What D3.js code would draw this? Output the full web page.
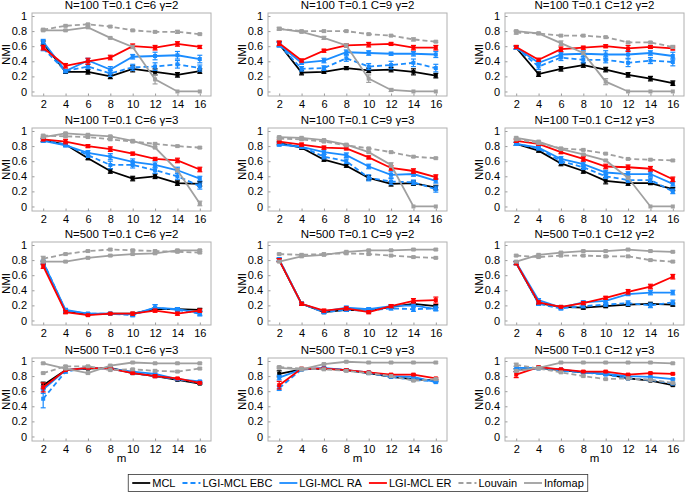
<!DOCTYPE html>
<html>
<head>
<meta charset="utf-8">
<script src="https://cdn.jsdelivr.net/npm/d3@7"></script>
<style>
  body { margin: 0; background: #fff; }
  svg { font-family: "Liberation Sans", Arial, sans-serif; }
</style>
</head>
<body>
<div id="chart"></div>
<script>
// x values and ticks
const mValues = [2, 4, 6, 8, 10, 12, 14, 16];
const yTicks = [0, 0.2, 0.4, 0.6, 0.8, 1];

const panelTitles = [
  "N=100 T=0.1 C=6 γ=2", "N=100 T=0.1 C=9 γ=2", "N=100 T=0.1 C=12 γ=2",
  "N=100 T=0.1 C=6 γ=3", "N=100 T=0.1 C=9 γ=3", "N=100 T=0.1 C=12 γ=3",
  "N=500 T=0.1 C=6 γ=2", "N=500 T=0.1 C=9 γ=2", "N=500 T=0.1 C=12 γ=2",
  "N=500 T=0.1 C=6 γ=3", "N=500 T=0.1 C=9 γ=3", "N=500 T=0.1 C=12 γ=3"
];

// NMI means, one row per panel
const mclNmi = [
  [0.64, 0.26, 0.26, 0.20, 0.30, 0.26, 0.22, 0.27],
  [0.63, 0.25, 0.26, 0.31, 0.28, 0.29, 0.26, 0.21],
  [0.58, 0.23, 0.30, 0.35, 0.29, 0.22, 0.17, 0.11],
  [0.88, 0.82, 0.64, 0.47, 0.37, 0.40, 0.31, 0.30],
  [0.84, 0.78, 0.62, 0.54, 0.38, 0.30, 0.31, 0.25],
  [0.83, 0.74, 0.57, 0.47, 0.34, 0.31, 0.31, 0.23],
  [0.76, 0.12, 0.08, 0.09, 0.09, 0.15, 0.15, 0.14],
  [0.80, 0.22, 0.11, 0.14, 0.13, 0.18, 0.22, 0.19],
  [0.76, 0.23, 0.18, 0.17, 0.19, 0.21, 0.22, 0.21],
  [0.68, 0.88, 0.90, 0.91, 0.84, 0.80, 0.75, 0.70],
  [0.83, 0.89, 0.90, 0.88, 0.84, 0.79, 0.76, 0.74],
  [0.88, 0.91, 0.88, 0.85, 0.83, 0.77, 0.74, 0.68]
];
const ebcNmi = [
  [0.57, 0.27, 0.33, 0.24, 0.32, 0.33, 0.36, 0.31],
  [0.62, 0.30, 0.31, 0.44, 0.33, 0.35, 0.38, 0.31],
  [0.58, 0.33, 0.45, 0.42, 0.42, 0.38, 0.41, 0.39],
  [0.88, 0.82, 0.68, 0.55, 0.55, 0.48, 0.40, 0.27],
  [0.83, 0.79, 0.66, 0.60, 0.38, 0.33, 0.32, 0.23],
  [0.83, 0.77, 0.60, 0.52, 0.40, 0.35, 0.35, 0.20],
  [0.78, 0.13, 0.09, 0.09, 0.07, 0.17, 0.14, 0.09],
  [0.81, 0.22, 0.11, 0.14, 0.13, 0.16, 0.15, 0.16],
  [0.76, 0.22, 0.16, 0.19, 0.21, 0.23, 0.20, 0.24],
  [0.50, 0.86, 0.91, 0.90, 0.84, 0.80, 0.76, 0.71],
  [0.64, 0.89, 0.90, 0.88, 0.84, 0.79, 0.75, 0.73],
  [0.88, 0.90, 0.87, 0.85, 0.82, 0.77, 0.75, 0.70]
];
const raNmi = [
  [0.66, 0.27, 0.41, 0.29, 0.46, 0.47, 0.48, 0.43],
  [0.62, 0.38, 0.41, 0.52, 0.51, 0.50, 0.50, 0.49],
  [0.58, 0.38, 0.49, 0.50, 0.49, 0.49, 0.51, 0.47],
  [0.87, 0.81, 0.71, 0.66, 0.59, 0.55, 0.48, 0.37],
  [0.82, 0.79, 0.72, 0.68, 0.53, 0.42, 0.43, 0.34],
  [0.83, 0.78, 0.63, 0.56, 0.45, 0.43, 0.43, 0.30],
  [0.77, 0.14, 0.09, 0.09, 0.08, 0.17, 0.15, 0.10],
  [0.81, 0.22, 0.12, 0.17, 0.15, 0.19, 0.20, 0.15],
  [0.77, 0.27, 0.17, 0.24, 0.26, 0.35, 0.37, 0.37],
  [0.62, 0.88, 0.91, 0.90, 0.86, 0.83, 0.76, 0.73],
  [0.78, 0.89, 0.91, 0.88, 0.85, 0.80, 0.79, 0.72],
  [0.91, 0.91, 0.89, 0.85, 0.83, 0.80, 0.79, 0.76]
];
const erNmi = [
  [0.58, 0.34, 0.40, 0.45, 0.60, 0.58, 0.63, 0.59],
  [0.64, 0.41, 0.54, 0.61, 0.62, 0.63, 0.58, 0.58],
  [0.59, 0.42, 0.56, 0.58, 0.60, 0.57, 0.59, 0.57],
  [0.89, 0.86, 0.80, 0.76, 0.70, 0.63, 0.61, 0.49],
  [0.86, 0.82, 0.78, 0.77, 0.65, 0.51, 0.47, 0.39],
  [0.87, 0.83, 0.72, 0.63, 0.53, 0.52, 0.50, 0.36],
  [0.72, 0.11, 0.07, 0.09, 0.09, 0.13, 0.09, 0.13],
  [0.80, 0.22, 0.13, 0.16, 0.11, 0.19, 0.26, 0.27],
  [0.76, 0.24, 0.18, 0.23, 0.30, 0.38, 0.45, 0.58],
  [0.65, 0.88, 0.91, 0.90, 0.84, 0.80, 0.77, 0.71],
  [0.68, 0.90, 0.90, 0.88, 0.85, 0.82, 0.82, 0.77],
  [0.82, 0.92, 0.89, 0.86, 0.86, 0.82, 0.84, 0.83]
];
const louvainNmi = [
  [0.82, 0.87, 0.89, 0.86, 0.81, 0.79, 0.79, 0.76],
  [0.83, 0.80, 0.80, 0.80, 0.76, 0.74, 0.69, 0.66],
  [0.78, 0.77, 0.74, 0.74, 0.72, 0.65, 0.65, 0.59],
  [0.94, 0.93, 0.92, 0.89, 0.86, 0.83, 0.80, 0.78],
  [0.90, 0.89, 0.86, 0.81, 0.77, 0.72, 0.66, 0.64],
  [0.89, 0.84, 0.77, 0.75, 0.70, 0.63, 0.62, 0.61],
  [0.82, 0.88, 0.92, 0.94, 0.93, 0.92, 0.91, 0.90],
  [0.88, 0.87, 0.88, 0.89, 0.88, 0.86, 0.84, 0.83],
  [0.86, 0.84, 0.86, 0.86, 0.85, 0.85, 0.80, 0.78],
  [0.84, 0.93, 0.93, 0.88, 0.89, 0.87, 0.86, 0.90],
  [0.92, 0.90, 0.89, 0.87, 0.84, 0.80, 0.74, 0.76],
  [0.95, 0.90, 0.85, 0.80, 0.76, 0.77, 0.75, 0.71]
];
const infomapNmi = [
  [0.81, 0.81, 0.85, 0.71, 0.59, 0.16, 0.00, 0.00],
  [0.83, 0.79, 0.71, 0.61, 0.17, 0.02, 0.00, 0.00],
  [0.80, 0.77, 0.64, 0.51, 0.13, 0.00, 0.00, 0.00],
  [0.92, 0.97, 0.95, 0.93, 0.87, 0.78, 0.48, 0.04],
  [0.92, 0.91, 0.88, 0.82, 0.72, 0.55, 0.00, 0.00],
  [0.91, 0.86, 0.76, 0.69, 0.61, 0.38, 0.00, 0.00],
  [0.78, 0.78, 0.83, 0.86, 0.88, 0.89, 0.93, 0.93],
  [0.78, 0.85, 0.87, 0.91, 0.93, 0.93, 0.94, 0.94],
  [0.78, 0.87, 0.90, 0.92, 0.92, 0.94, 0.92, 0.91],
  [0.97, 0.90, 0.84, 0.94, 0.98, 0.97, 0.97, 0.97],
  [0.91, 0.89, 0.96, 0.99, 0.98, 0.98, 0.98, 0.98],
  [0.87, 0.91, 0.98, 0.98, 0.98, 0.98, 0.98, 0.97]
];

// error bar half-lengths (std), one row per panel
const mclErr = [
  [0.03, 0.02, 0.03, 0.03, 0.04, 0.04, 0.03, 0.03],
  [0.03, 0.03, 0.02, 0.02, 0.03, 0.03, 0.04, 0.03],
  [0.02, 0.03, 0.03, 0.03, 0.03, 0.03, 0.03, 0.03],
  [0.02, 0.02, 0.02, 0.03, 0.03, 0.03, 0.03, 0.03],
  [0.02, 0.02, 0.02, 0.02, 0.03, 0.03, 0.03, 0.03],
  [0.02, 0.02, 0.03, 0.03, 0.04, 0.03, 0.02, 0.02],
  [0.02, 0.02, 0.01, 0.01, 0.01, 0.02, 0.02, 0.02],
  [0.02, 0.02, 0.01, 0.02, 0.02, 0.02, 0.02, 0.02],
  [0.02, 0.02, 0.01, 0.02, 0.02, 0.02, 0.02, 0.02],
  [0.04, 0.01, 0.01, 0.01, 0.01, 0.01, 0.01, 0.01],
  [0.04, 0.01, 0.01, 0.01, 0.01, 0.01, 0.01, 0.01],
  [0.02, 0.01, 0.01, 0.01, 0.01, 0.01, 0.01, 0.01]
];
const ebcErr = [
  [0.03, 0.02, 0.03, 0.04, 0.04, 0.05, 0.05, 0.04],
  [0.03, 0.03, 0.03, 0.04, 0.04, 0.05, 0.05, 0.05],
  [0.02, 0.04, 0.04, 0.04, 0.04, 0.05, 0.04, 0.05],
  [0.02, 0.02, 0.03, 0.05, 0.04, 0.04, 0.04, 0.04],
  [0.02, 0.02, 0.03, 0.03, 0.04, 0.04, 0.03, 0.04],
  [0.02, 0.02, 0.03, 0.03, 0.03, 0.03, 0.03, 0.03],
  [0.02, 0.02, 0.01, 0.01, 0.02, 0.04, 0.02, 0.03],
  [0.02, 0.02, 0.02, 0.02, 0.02, 0.02, 0.03, 0.03],
  [0.02, 0.02, 0.02, 0.02, 0.02, 0.03, 0.03, 0.03],
  [0.12, 0.02, 0.01, 0.01, 0.01, 0.01, 0.01, 0.01],
  [0.03, 0.01, 0.01, 0.01, 0.01, 0.01, 0.01, 0.01],
  [0.02, 0.01, 0.01, 0.01, 0.01, 0.01, 0.01, 0.01]
];
const raErr = [
  [0.03, 0.02, 0.03, 0.04, 0.03, 0.05, 0.05, 0.05],
  [0.03, 0.02, 0.03, 0.03, 0.03, 0.02, 0.03, 0.04],
  [0.02, 0.03, 0.03, 0.04, 0.05, 0.05, 0.03, 0.05],
  [0.02, 0.02, 0.03, 0.04, 0.04, 0.04, 0.04, 0.03],
  [0.02, 0.02, 0.03, 0.03, 0.03, 0.04, 0.03, 0.03],
  [0.02, 0.02, 0.03, 0.03, 0.03, 0.03, 0.03, 0.03],
  [0.02, 0.02, 0.01, 0.01, 0.02, 0.04, 0.02, 0.03],
  [0.02, 0.02, 0.02, 0.02, 0.02, 0.02, 0.02, 0.02],
  [0.02, 0.02, 0.02, 0.02, 0.02, 0.02, 0.03, 0.03],
  [0.05, 0.01, 0.01, 0.01, 0.01, 0.01, 0.01, 0.01],
  [0.03, 0.01, 0.01, 0.01, 0.01, 0.01, 0.01, 0.01],
  [0.02, 0.01, 0.01, 0.01, 0.01, 0.01, 0.01, 0.01]
];
const erErr = [
  [0.03, 0.03, 0.04, 0.03, 0.03, 0.03, 0.03, 0.02],
  [0.03, 0.02, 0.02, 0.02, 0.03, 0.02, 0.03, 0.03],
  [0.02, 0.02, 0.03, 0.02, 0.02, 0.04, 0.02, 0.02],
  [0.02, 0.03, 0.02, 0.03, 0.02, 0.02, 0.03, 0.03],
  [0.02, 0.02, 0.02, 0.02, 0.02, 0.03, 0.03, 0.03],
  [0.02, 0.02, 0.02, 0.03, 0.03, 0.03, 0.03, 0.03],
  [0.03, 0.02, 0.01, 0.01, 0.02, 0.02, 0.02, 0.02],
  [0.02, 0.02, 0.02, 0.02, 0.02, 0.02, 0.03, 0.04],
  [0.02, 0.02, 0.01, 0.02, 0.02, 0.03, 0.03, 0.03],
  [0.06, 0.01, 0.01, 0.01, 0.01, 0.02, 0.01, 0.01],
  [0.05, 0.01, 0.01, 0.01, 0.01, 0.01, 0.01, 0.01],
  [0.04, 0.01, 0.01, 0.01, 0.01, 0.01, 0.01, 0.01]
];
const louvainErr = [
  [0.01, 0.01, 0.01, 0.01, 0.01, 0.01, 0.02, 0.01],
  [0.02, 0.01, 0.01, 0.01, 0.01, 0.01, 0.02, 0.01],
  [0.02, 0.01, 0.01, 0.01, 0.01, 0.01, 0.01, 0.02],
  [0.01, 0.01, 0.01, 0.01, 0.01, 0.01, 0.01, 0.01],
  [0.01, 0.01, 0.01, 0.01, 0.01, 0.01, 0.01, 0.01],
  [0.01, 0.01, 0.01, 0.01, 0.01, 0.01, 0.01, 0.01],
  [0.03, 0.01, 0.01, 0.01, 0.01, 0.01, 0.01, 0.01],
  [0.01, 0.01, 0.01, 0.01, 0.01, 0.01, 0.01, 0.01],
  [0.01, 0.01, 0.01, 0.01, 0.01, 0.01, 0.01, 0.01],
  [0.01, 0.01, 0.01, 0.01, 0.01, 0.01, 0.01, 0.01],
  [0.01, 0.01, 0.01, 0.01, 0.01, 0.01, 0.01, 0.01],
  [0.02, 0.01, 0.01, 0.01, 0.01, 0.01, 0.01, 0.01]
];
const infomapErr = [
  [0.01, 0.01, 0.01, 0.01, 0.02, 0.06, 0.00, 0.00],
  [0.01, 0.01, 0.02, 0.02, 0.05, 0.02, 0.00, 0.00],
  [0.01, 0.01, 0.03, 0.02, 0.04, 0.00, 0.00, 0.00],
  [0.01, 0.01, 0.01, 0.01, 0.01, 0.01, 0.02, 0.03],
  [0.01, 0.01, 0.01, 0.01, 0.01, 0.03, 0.00, 0.00],
  [0.01, 0.01, 0.01, 0.01, 0.01, 0.02, 0.00, 0.00],
  [0.01, 0.01, 0.01, 0.01, 0.01, 0.01, 0.01, 0.01],
  [0.01, 0.01, 0.01, 0.01, 0.01, 0.01, 0.01, 0.01],
  [0.01, 0.01, 0.01, 0.01, 0.01, 0.01, 0.01, 0.01],
  [0.01, 0.01, 0.01, 0.01, 0.01, 0.01, 0.01, 0.01],
  [0.01, 0.01, 0.01, 0.01, 0.01, 0.01, 0.01, 0.01],
  [0.01, 0.01, 0.01, 0.01, 0.01, 0.01, 0.01, 0.01]
];

const seriesNames = ["MCL", "LGI-MCL EBC", "LGI-MCL RA", "LGI-MCL ER", "Louvain", "Infomap"];

const series = [
  {name: seriesNames[0], values: mclNmi, err: mclErr, color: "#000000", dash: null},
  {name: seriesNames[1], values: ebcNmi, err: ebcErr, color: "#1a8cff", dash: "5,3"},
  {name: seriesNames[2], values: raNmi, err: raErr, color: "#1a8cff", dash: null},
  {name: seriesNames[3], values: erNmi, err: erErr, color: "#ff0000", dash: null},
  {name: seriesNames[4], values: louvainNmi, err: louvainErr, color: "#a0a0a0", dash: "5,3"},
  {name: seriesNames[5], values: infomapNmi, err: infomapErr, color: "#a0a0a0", dash: null}
];

const width = 685, height = 492;
const colLeft = [32, 268, 505];
const rowTop = [13, 128, 242, 358];
const pw = 179, ph = 83;

const svg = d3.select("#chart").append("svg")
  .attr("width", width)
  .attr("height", height);

const x = d3.scaleLinear().domain([1, 17]).range([0, pw]);
const y = d3.scaleLinear().domain([-0.06, 1.04]).range([ph, 0]);

const line = d3.line()
  .x((d, i) => x(mValues[i]))
  .y(d => y(d));

panelTitles.forEach((title, p) => {
  const row = Math.floor(p / 3), col = p % 3;
  const g = svg.append("g")
    .attr("transform", `translate(${colLeft[col]},${rowTop[row]})`);

  const xAxis = g.append("g")
    .attr("transform", `translate(0,${ph})`)
    .call(d3.axisBottom(x).tickValues(mValues).tickSizeInner(-2.5).tickSizeOuter(0).tickPadding(4));
  const yAxis = g.append("g")
    .call(d3.axisLeft(y).tickValues(yTicks).tickFormat(d3.format("~g")).tickSizeInner(-2.5).tickSizeOuter(0).tickPadding(5));

  [xAxis, yAxis].forEach(a => {
    a.select(".domain").remove();
    a.selectAll(".tick line").attr("stroke", "#9a9a9a");
    a.selectAll(".tick text").attr("fill", "#000").style("font-size", "11px");
  });

  g.append("rect")
    .attr("width", pw).attr("height", ph)
    .attr("fill", "none")
    .attr("stroke", "#b0b0b0")
    .attr("stroke-width", 1);

  g.append("text")
    .attr("x", pw / 2).attr("y", -4)
    .attr("text-anchor", "middle")
    .style("font-size", "11.5px")
    .text(title);

  g.append("text")
    .attr("transform", `translate(-26,${ph / 2}) rotate(-90)`)
    .attr("dy", "0.35em")
    .attr("text-anchor", "middle")
    .style("font-size", "11.5px")
    .text("NMI");

  if (row === 3) {
    g.append("text")
      .attr("x", pw / 2).attr("y", ph + 21)
      .attr("text-anchor", "middle")
      .style("font-size", "11.5px")
      .text("m");
  }

  series.forEach(s => {
    const vals = s.values[p], errs = s.err[p];
    const sg = g.append("g");
    sg.append("path")
      .attr("d", line(vals))
      .attr("fill", "none")
      .attr("stroke", s.color)
      .attr("stroke-width", 1.8)
      .attr("stroke-dasharray", s.dash);
    vals.forEach((v, i) => {
      const cx = x(mValues[i]);
      const e = errs[i];
      if (e > 0) {
        sg.append("line")
          .attr("x1", cx).attr("x2", cx)
          .attr("y1", y(v - e)).attr("y2", y(v + e))
          .attr("stroke", s.color).attr("stroke-width", 1.2);
        [v - e, v + e].forEach(c => {
          sg.append("line")
            .attr("x1", cx - 2.5).attr("x2", cx + 2.5)
            .attr("y1", y(c)).attr("y2", y(c))
            .attr("stroke", s.color).attr("stroke-width", 1.2);
        });
      }
      sg.append("rect")
        .attr("x", cx - 2).attr("y", y(v) - 2)
        .attr("width", 4).attr("height", 4)
        .attr("fill", s.color);
    });
  });
});

// legend
const legend = svg.append("g");
const legendBox = legend.append("rect")
  .attr("fill", "#fff")
  .attr("stroke", "#333")
  .attr("stroke-width", 0.8);
let lx = 0;
series.forEach(s => {
  const it = legend.append("g").attr("transform", `translate(${lx},0)`);
  it.append("line")
    .attr("x1", 0).attr("x2", 18).attr("y1", 0).attr("y2", 0)
    .attr("stroke", s.color).attr("stroke-width", 1.8)
    .attr("stroke-dasharray", s.dash);
  const t = it.append("text")
    .attr("x", 20).attr("dy", "0.35em")
    .style("font-size", "11px")
    .text(s.name);
  lx += 20 + t.node().getComputedTextLength() + 7;
});
const legendW = lx - 7 + 8;
const lx0 = 358 - legendW / 2 + 4;
legend.attr("transform", `translate(${lx0},483)`);
legendBox.attr("x", -4).attr("y", -8.5).attr("width", legendW).attr("height", 17);
</script>
</body>
</html>
